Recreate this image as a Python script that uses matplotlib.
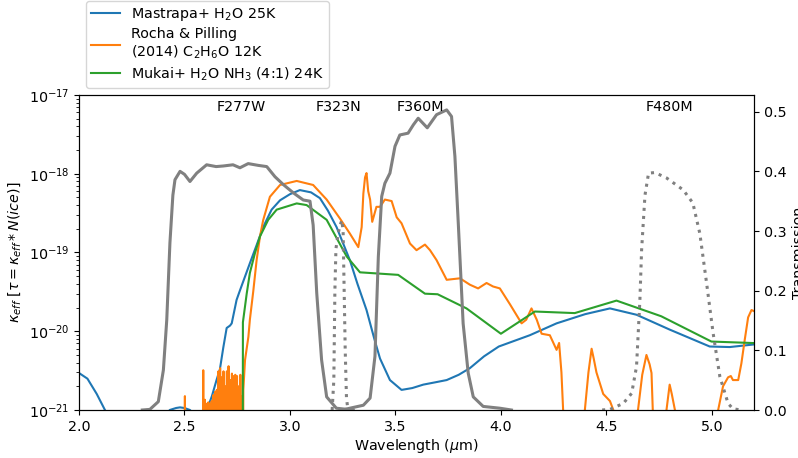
import numpy as np
import matplotlib
matplotlib.use("Agg")
import matplotlib.pyplot as plt
import matplotlib.transforms as mtransforms

plt.rcParams["font.size"] = 10.3

# Mastrapa+ H2O 25K
wl_mastrapa = [2.0, 2.04, 2.084, 2.123, 2.16, 2.25, 2.35, 2.43, 2.46, 2.479, 2.50, 2.526,
               2.56, 2.60, 2.63, 2.652, 2.668, 2.684, 2.70, 2.716, 2.724, 2.747, 2.763,
               2.81, 2.842, 2.873, 2.913, 2.953, 3.0, 3.047, 3.10, 3.142, 3.18, 3.221,
               3.284, 3.32, 3.363, 3.40, 3.427, 3.474, 3.529, 3.58, 3.632, 3.69, 3.743,
               3.80, 3.853, 3.92, 3.99, 4.137, 4.264, 4.40, 4.517, 4.643, 4.80, 4.99,
               5.085, 5.2]
k_mastrapa = [2.95e-21, 2.5e-21, 1.6e-21, 1.0e-21, 6e-22, 3e-22, 4e-22, 1.0e-21, 1.06e-21,
              1.08e-21, 1.06e-21, 1.0e-21, 8e-22, 9e-22, 1.5e-21, 2.4e-21, 3.3e-21, 6.2e-21,
              1.1e-20, 1.18e-20, 1.26e-20, 2.5e-20, 3.3e-20, 7.3e-20, 1.24e-19, 2.1e-19,
              3.5e-19, 4.6e-19, 5.5e-19, 6.2e-19, 5.8e-19, 4.9e-19, 3.4e-19, 2.1e-19,
              8e-20, 4e-20, 1.86e-20, 8e-21, 4.5e-21, 2.4e-21, 1.8e-21, 1.9e-21, 2.1e-21,
              2.25e-21, 2.4e-21, 2.8e-21, 3.4e-21, 4.8e-21, 6.4e-21, 8.9e-21, 1.26e-20,
              1.65e-20, 1.95e-20, 1.62e-20, 1.05e-20, 6.4e-21, 6.3e-21, 6.8e-21]

# Rocha & Pilling (2014) C2H6O 12K
wl_rocha = [2.480, 2.497, 2.502, 2.507, 2.585, 2.589, 2.593, 2.597, 2.601, 2.605, 2.609,
            2.613, 2.617, 2.621, 2.625, 2.629, 2.633, 2.637, 2.641, 2.645, 2.649, 2.653,
            2.657, 2.661, 2.665, 2.669, 2.673, 2.677, 2.681, 2.685, 2.689, 2.693, 2.697,
            2.701, 2.705, 2.709, 2.713, 2.717, 2.721, 2.725, 2.729, 2.733, 2.737, 2.741,
            2.745, 2.749, 2.753, 2.757, 2.761, 2.765, 2.769, 2.773, 2.777, 2.779, 2.787,
            2.795, 2.803, 2.81, 2.826, 2.842, 2.858, 2.873, 2.905, 2.953, 3.032, 3.11,
            3.174, 3.237, 3.284, 3.324, 3.34, 3.348, 3.356, 3.363, 3.371, 3.38, 3.39,
            3.41, 3.427, 3.45, 3.482, 3.506, 3.529, 3.569, 3.60, 3.64, 3.664, 3.695,
            3.743, 3.806, 3.853, 3.892, 3.932, 3.963, 3.995, 4.043, 4.098, 4.12, 4.145,
            4.17, 4.193, 4.232, 4.264, 4.276, 4.287, 4.295, 4.30, 4.39, 4.398, 4.415,
            4.43, 4.44, 4.453, 4.485, 4.517, 4.533, 4.54, 4.64, 4.65, 4.67, 4.69, 4.705,
            4.714, 4.72, 4.725, 4.78, 4.785, 4.80, 4.81, 4.825, 4.83, 5.02, 5.03, 5.053,
            5.077, 5.09, 5.10, 5.125, 5.14, 5.156, 5.172, 5.188, 5.2]
k_rocha = [1e-23, 1e-23, 1.5e-21, 1e-23, 1e-23, 3.2e-21, 1e-23, 1.35e-21, 1e-23, 1.2e-21,
           1e-23, 1.25e-21, 1e-23, 1.2e-21, 1e-23, 1.3e-21, 1e-23, 1.55e-21, 1e-23, 1.7e-21,
           1e-23, 1.8e-21, 1e-23, 3.1e-21, 1e-23, 3.4e-21, 1e-23, 2.6e-21, 1e-23, 3.1e-21,
           1e-23, 2.0e-21, 1e-23, 3.1e-21, 1e-23, 3.6e-21, 1e-23, 2.4e-21, 1e-23, 2.9e-21,
           1e-23, 2.7e-21, 1e-23, 2.8e-21, 1e-23, 2.7e-21, 1e-23, 2.0e-21, 1e-23, 2.8e-21,
           1e-23, 1.5e-21, 1e-23, 1.8e-21, 4.3e-21, 6e-21, 8.5e-21, 1.4e-20, 3.2e-20, 8e-20,
           1.6e-19, 2.57e-19, 5.1e-19, 7.2e-19, 8.1e-19, 7.2e-19, 4.7e-19, 2.7e-19,
           1.74e-19, 1.17e-19, 2.1e-19, 5.6e-19, 9e-19, 1.02e-18, 6e-19, 4.7e-19, 2.45e-19,
           3.8e-19, 3.8e-19, 4.7e-19, 4.5e-19, 2.8e-19, 2.35e-19, 1.3e-19, 1.07e-19,
           1.26e-19, 1.07e-19, 8e-20, 4.5e-20, 4.7e-20, 3.9e-20, 3.5e-20, 4.1e-20, 3.7e-20,
           3.5e-20, 2.2e-20, 1.26e-20, 1.4e-20, 1.95e-20, 1.4e-20, 9.3e-21, 8.9e-21,
           5.8e-21, 7.1e-21, 3e-21, 1e-21, 1e-23, 1e-23, 1e-21, 3e-21, 6e-21, 4.5e-21,
           3e-21, 1.6e-21, 1.3e-21, 1e-21, 1e-23, 1e-23, 1e-21, 2.8e-21, 5e-21, 3.8e-21,
           2.95e-21, 1e-21, 1e-23, 1e-23, 1e-21, 2.1e-21, 1.6e-21, 1e-21, 1e-23, 1e-23,
           1e-21, 2e-21, 2.6e-21, 2.7e-21, 2.4e-21, 2.4e-21, 3.9e-21, 7.8e-21, 1.5e-20,
           1.86e-20, 1.8e-20]

# Mukai+ H2O NH3 (4:1) 24K
wl_mukai = [2.776, 2.777, 2.795, 2.81, 2.834, 2.858, 2.897, 2.937, 3.032, 3.079, 3.174,
            3.269, 3.332, 3.513, 3.64, 3.70, 3.837, 4.0, 4.161, 4.35, 4.548, 4.76, 4.998,
            5.25]
k_mukai = [1e-23, 1.3e-20, 3e-20, 5.5e-20, 9.8e-20, 1.6e-19, 2.6e-19, 3.5e-19, 4.2e-19,
           4.0e-19, 2.6e-19, 8.9e-20, 5.6e-20, 5.2e-20, 3.0e-20, 2.95e-20, 1.95e-20,
           9.3e-21, 1.78e-20, 1.7e-20, 2.45e-20, 1.55e-20, 7.4e-21, 7.0e-21]

# NIRCam filter transmission curves
wl_f277w = [2.30, 2.336, 2.376, 2.40, 2.416, 2.431, 2.445, 2.455, 2.479, 2.50, 2.526, 2.558,
            2.605, 2.65, 2.684, 2.73, 2.763, 2.802, 2.85, 2.89, 2.929, 2.968, 3.016, 3.063,
            3.095, 3.11, 3.127, 3.15, 3.174, 3.22, 3.30]
t_f277w = [0.0, 0.001, 0.014, 0.067, 0.151, 0.28, 0.36, 0.386, 0.40, 0.395, 0.383, 0.397,
           0.411, 0.408, 0.409, 0.411, 0.406, 0.413, 0.41, 0.408, 0.391, 0.378, 0.364, 0.352,
           0.35, 0.31, 0.196, 0.084, 0.022, 0.003, 0.0]

wl_f323n = [3.20, 3.208, 3.213, 3.218, 3.228, 3.238, 3.246, 3.252, 3.256, 3.262, 3.268, 3.275]
t_f323n = [0.0, 0.05, 0.2, 0.27, 0.295, 0.31, 0.318, 0.30, 0.22, 0.10, 0.02, 0.0]

wl_f360m = [3.25, 3.284, 3.348, 3.38, 3.403, 3.419, 3.435, 3.45, 3.474, 3.498, 3.521, 3.56,
            3.585, 3.608, 3.651, 3.695, 3.743, 3.766, 3.782, 3.798, 3.821, 3.845, 3.869,
            3.916, 3.995, 4.05]
t_f360m = [0.0, 0.003, 0.008, 0.02, 0.09, 0.257, 0.358, 0.38, 0.397, 0.442, 0.461, 0.464,
           0.478, 0.489, 0.473, 0.495, 0.503, 0.492, 0.425, 0.313, 0.145, 0.062, 0.022,
           0.006, 0.003, 0.0]

wl_f480m = [4.48, 4.517, 4.58, 4.62, 4.643, 4.659, 4.667, 4.683, 4.70, 4.73, 4.785, 4.864,
            4.91, 4.943, 4.975, 5.006, 5.038, 5.077, 5.10, 5.14]
t_f480m = [0.0, 0.001, 0.011, 0.028, 0.073, 0.185, 0.268, 0.36, 0.397, 0.398, 0.389, 0.369,
           0.347, 0.296, 0.213, 0.129, 0.056, 0.011, 0.002, 0.0]

filter_names = ["F277W", "F323N", "F360M", "F480M"]
filter_centers = [2.77, 3.23, 3.62, 4.80]

fig = plt.figure(figsize=(7.98, 4.58), dpi=100)
ax = fig.add_axes([0.099, 0.1048, 0.8459, 0.6878])

ax.plot(wl_mastrapa, k_mastrapa, color="C0", label="Mastrapa+ H$_2$O 25K")
ax.plot(wl_rocha, k_rocha, color="C1", label="Rocha & Pilling\n(2014) C$_2$H$_6$O 12K")
ax.plot(wl_mukai, k_mukai, color="C2", label="Mukai+ H$_2$O NH$_3$ (4:1) 24K")
ax.set_yscale("log")
ax.set_ylim(1e-21, 1e-17)
ax.set_xlim(2.0, 5.2)
ax.set_xlabel(r"Wavelength ($\mu$m)", labelpad=2)
ax.set_ylabel(r"$\kappa_{eff}$ [$\tau = \kappa_{eff} * N(ice)$]")
ax.legend(loc="lower left", bbox_to_anchor=(0, 1), labelspacing=0.3,
          borderpad=0.35)

ax2 = ax.twinx()
ax2.plot(wl_f277w, t_f277w, color="gray", lw=2.2)
ax2.plot(wl_f323n, t_f323n, color="gray", lw=2.2, ls=":")
ax2.plot(wl_f360m, t_f360m, color="gray", lw=2.2)
ax2.plot(wl_f480m, t_f480m, color="gray", lw=2.2, ls=":")
ax2.set_ylim(0, 0.528)
ax2.set_ylabel("Transmission")

trans = mtransforms.blended_transform_factory(ax2.transData, ax2.transAxes)
for name, c in zip(filter_names, filter_centers):
    ax2.text(c, 0.985, name, transform=trans, ha="center", va="top")

fig.savefig("out.png", dpi=100)
